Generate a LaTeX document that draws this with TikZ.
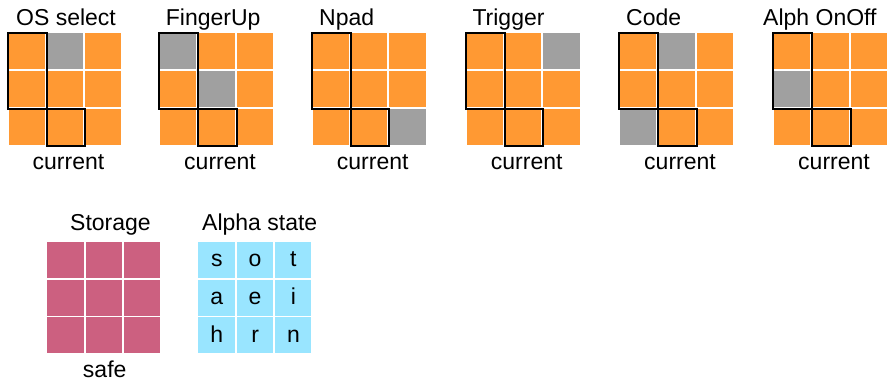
\documentclass[tikz,border=0pt]{standalone}
\usepackage{fontspec}
\setmainfont{Liberation Sans}
\definecolor{keyorange}{HTML}{FF9933}
\definecolor{keygrey}{HTML}{A0A0A0}
\definecolor{storepink}{HTML}{CC6080}
\definecolor{alphablue}{HTML}{99E5FF}
\tikzset{
  lbl/.style={font=\fontsize{23}{27}\selectfont, inner sep=0pt},
  outline/.style={draw=black, line width=2pt},
}
\begin{document}
\begin{tikzpicture}[x=1pt, y=-1pt]
\useasboundingbox (0,0) rectangle (890,381);
% top row: the six key grids
\foreach \xl/\ttl/\tx/\grey [count=\i] in {8.5/OS select/16/{1/0}, 160/FingerUp/165.7/{0/0,1/1}, 312.7/Npad/319/{2/2}, 466.7/Trigger/472.3/{2/0}, 620/Code/626/{1/0,0/2}, 774/Alph OnOff/763/{0/1}}{
    \foreach \c in {0,1,2}{
        \foreach \r in {0,1,2}{
            \fill[keyorange] (\xl+\c*38.3, 33.3+\r*37.8) rectangle ++(36.3,36.1);
        }
    }
    \foreach \c/\r in \grey{
        \fill[keygrey] (\xl+\c*38.3, 33.3+\r*37.8) rectangle ++(36.3,36.1);
    }
    \draw[outline] (\xl-1,32.7) rectangle (\xl+38.3,108.9);
    \draw[outline] (\xl+38.3,108.9) rectangle (\xl+76.6,146);
    \node[lbl, anchor=base west] (title\i) at (\tx,25) {\ttl};
    \node[lbl, anchor=base] (cur\i) at (\xl+60,169.3) {current};
}
% storage grid
\foreach \c in {0,1,2}{
    \foreach \r in {0,1,2}{
        \fill[storepink] (47.4+\c*38.3, 241.7+\r*37.8) rectangle ++(36.3,36.1);
    }
}
\node[lbl, anchor=base west] (storage) at (70,230) {Storage};
\node[lbl, anchor=base] (safe) at (104.7,377) {safe};
% alpha state grid
\foreach \row [count=\r from 0] in {{s,o,t},{a,e,i},{h,r,n}}{
    \foreach \ch [count=\c from 0] in \row{
        \fill[alphablue] (198.3+\c*38.3, 241.7+\r*37.8) rectangle ++(36.3,36.1);
        \node[lbl, anchor=base] (alpha\r\c) at (198.3+\c*38.3+18.5, 241.7+\r*37.8+25) {\ch};
    }
}
\node[lbl, anchor=base west] (alphastate) at (202,230) {Alpha state};
\end{tikzpicture}
\end{document}
